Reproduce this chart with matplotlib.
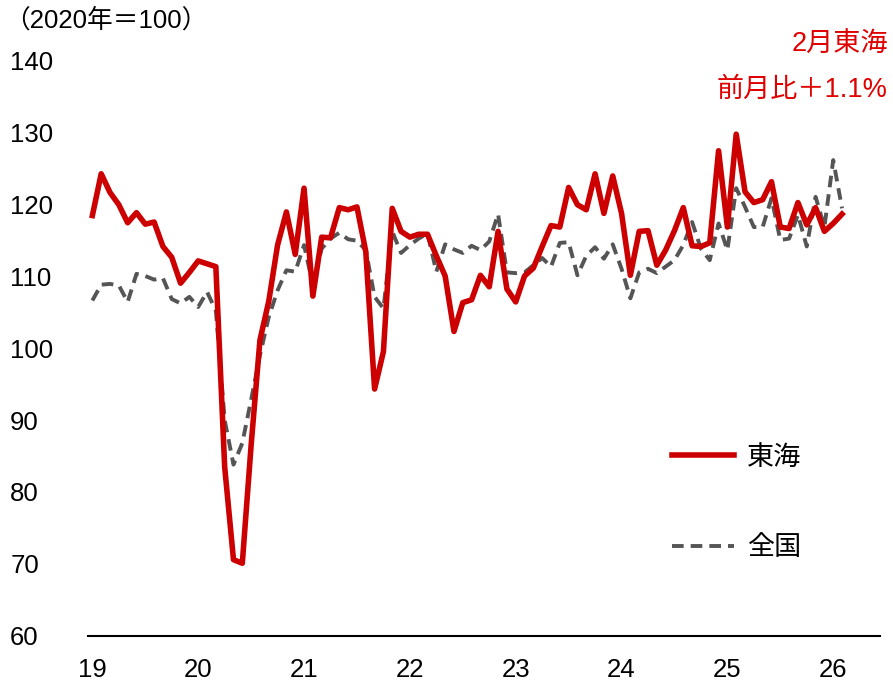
import numpy as np
import matplotlib
matplotlib.use("Agg")
import matplotlib.pyplot as plt

plt.rcParams['font.family'] = ['Liberation Sans', 'Noto Sans CJK JP', 'DejaVu Sans']

# monthly index, Jan 2019 - Feb 2026
tokai = [118.4, 124.2, 121.6, 119.9, 117.4, 118.8, 117.2, 117.5, 114.1, 112.6, 109.0, 110.5,
         112.1, 111.7, 111.3, 83.5, 70.6, 70.1, 86.5, 101.1, 106.5, 114.3, 118.9, 113.0,
         122.2, 107.2, 115.4, 115.3, 119.5, 119.2, 119.6, 113.4, 94.3, 99.5, 119.4, 116.2,
         115.4, 115.8, 115.8, 112.8, 110.0, 102.3, 106.3, 106.7, 110.1, 108.5, 116.2, 108.2,
         106.4, 110.0, 111.1, 114.1, 117.0, 116.8, 122.3, 119.9, 119.2, 124.2, 118.7, 123.9,
         118.7, 110.1, 116.2, 116.3, 111.5, 113.6, 116.3, 119.5, 114.2, 114.1, 114.6, 127.4,
         116.8, 129.7, 121.7, 120.2, 120.6, 123.1, 116.8, 116.6, 120.2, 117.1, 119.5, 116.2,
         117.3, 118.6]
zenkoku = [106.6, 108.8, 108.9, 108.7, 106.4, 110.3, 110.0, 109.5, 109.7, 106.8, 106.2, 107.1,
           105.7, 107.8, 105.2, 90.0, 83.8, 86.8, 92.8, 99.0, 104.3, 108.0, 110.8, 110.6,
           114.3, 108.8, 113.8, 115.2, 116.0, 115.1, 114.9, 113.6, 107.1, 105.5, 116.2, 113.2,
           114.3, 115.2, 115.9, 110.6, 114.4, 113.7, 113.2, 114.2, 113.6, 114.8, 118.6, 110.5,
           110.4, 110.5, 111.5, 112.5, 111.3, 114.6, 114.7, 110.1, 112.8, 114.0, 112.4, 114.4,
           111.0, 106.9, 110.5, 111.0, 110.4, 111.3, 112.2, 114.3, 117.5, 113.8, 112.2, 117.3,
           113.6, 122.2, 119.6, 116.8, 116.8, 120.8, 115.0, 115.2, 118.5, 114.1, 121.0, 116.8,
           126.1, 119.4]
year_labels = ['19', '20', '21', '22', '23', '24', '25', '26']

x = np.arange(len(tokai))

fig = plt.figure(figsize=(8.93, 6.86), dpi=100)
ax = fig.add_axes([0.0985, 0.0729, 0.8869, 0.8396])

ax.plot(x, zenkoku, color='#555555', lw=2.8, dashes=(3.0, 1.8), label='全国')
ax.plot(x, tokai, color='#CC0000', lw=4.0, label='東海')

ax.set_xlim(-0.5, 89.3)
ax.set_ylim(60, 140)
ax.set_yticks(range(60, 141, 10))
ax.set_xticks(np.arange(0, 85, 12))
ax.set_xticklabels(year_labels)
ax.tick_params(axis='x', length=0, pad=16, labelsize=18.5)
ax.tick_params(axis='y', length=0, pad=56, labelsize=18.5)
for t in ax.get_yticklabels():
    t.set_horizontalalignment('left')

for s in ['top', 'right', 'left']:
    ax.spines[s].set_visible(False)
ax.spines['bottom'].set_linewidth(1.5)

h, l = ax.get_legend_handles_labels()
ax.legend(h[::-1], l[::-1], loc='upper left', bbox_to_anchor=(0.737, 0.332),
          frameon=False, fontsize=19.5, handlelength=2.3, handletextpad=0.48,
          labelspacing=2.38, borderpad=0, borderaxespad=0)

fig.text(0.005, 1 - 20 / 686, '（2020年＝100）', fontsize=18.5, va='center', ha='left')
fig.text(0.994, 1 - 45 / 686, '2月東海', fontsize=19.5, color='#E00000', va='center', ha='right')
fig.text(0.994, 1 - 90 / 686, '前月比＋1.1%', fontsize=19.5, color='#E00000', va='center', ha='right')

fig.savefig('out.png', dpi=100)
